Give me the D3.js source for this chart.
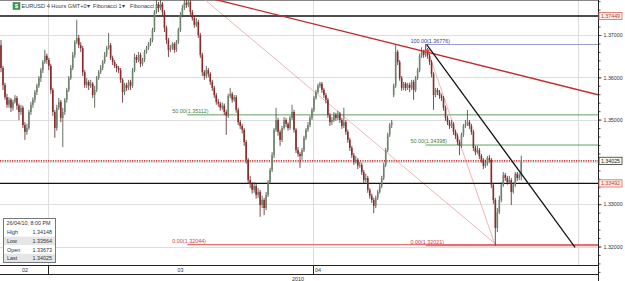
<!DOCTYPE html>
<html>
<head>
<meta charset="utf-8">
<script src="https://cdn.jsdelivr.net/npm/d3@7"></script>
<style>
body { margin: 0; background: #fff; }
svg { display: block; font-family: "Liberation Sans", Arial, sans-serif; }
</style>
</head>
<body>
<svg id="chart" width="625" height="281"></svg>
<script>
// EURUSD 4h bars, [open, high, low, close], late Feb 2010 to 26/04/10 8:00 PM
const candles = [
[1.3676,1.3688,1.3612,1.3622],[1.3622,1.3627,1.3570,1.3582],[1.3582,1.3587,1.3547,1.3553],[1.3553,1.3561,1.3528,1.3535],
[1.3535,1.3553,1.3528,1.3547],[1.3547,1.3551,1.3518,1.3528],[1.3528,1.3547,1.3521,1.3542],[1.3542,1.3558,1.3538,1.3551],
[1.3551,1.3556,1.3523,1.3533],[1.3533,1.3538,1.3499,1.3518],[1.3518,1.3535,1.3511,1.3528],[1.3528,1.3533,1.3480,1.3487],
[1.3487,1.3494,1.3452,1.3471],[1.3471,1.3490,1.3464,1.3480],[1.3480,1.3523,1.3476,1.3518],[1.3518,1.3542,1.3511,1.3535],
[1.3535,1.3553,1.3528,1.3547],[1.3547,1.3570,1.3540,1.3565],[1.3565,1.3585,1.3558,1.3580],[1.3580,1.3603,1.3575,1.3598],
[1.3598,1.3622,1.3589,1.3617],[1.3617,1.3641,1.3610,1.3636],[1.3636,1.3665,1.3632,1.3651],[1.3651,1.3656,1.3632,1.3641],
[1.3641,1.3646,1.3617,1.3627],[1.3627,1.3632,1.3561,1.3570],[1.3570,1.3575,1.3509,1.3518],[1.3518,1.3523,1.3457,1.3480],
[1.3480,1.3535,1.3474,1.3528],[1.3528,1.3551,1.3523,1.3542],[1.3542,1.3547,1.3494,1.3504],[1.3504,1.3528,1.3435,1.3518],
[1.3518,1.3551,1.3511,1.3547],[1.3547,1.3575,1.3540,1.3570],[1.3570,1.3603,1.3565,1.3598],[1.3598,1.3629,1.3594,1.3622],
[1.3622,1.3660,1.3617,1.3653],[1.3653,1.3688,1.3646,1.3683],[1.3683,1.3736,1.3679,1.3693],[1.3693,1.3700,1.3669,1.3676],
[1.3676,1.3683,1.3660,1.3669],[1.3669,1.3674,1.3603,1.3612],[1.3612,1.3617,1.3575,1.3582],[1.3582,1.3598,1.3575,1.3589],
[1.3589,1.3594,1.3570,1.3580],[1.3580,1.3594,1.3575,1.3585],[1.3585,1.3589,1.3551,1.3558],[1.3558,1.3580,1.3528,1.3570],
[1.3570,1.3603,1.3565,1.3598],[1.3598,1.3617,1.3594,1.3612],[1.3612,1.3629,1.3608,1.3622],[1.3622,1.3641,1.3617,1.3636],
[1.3636,1.3660,1.3632,1.3653],[1.3653,1.3674,1.3648,1.3669],[1.3669,1.3705,1.3665,1.3676],[1.3676,1.3681,1.3641,1.3646],
[1.3646,1.3651,1.3629,1.3636],[1.3636,1.3641,1.3622,1.3627],[1.3627,1.3632,1.3612,1.3622],[1.3622,1.3627,1.3610,1.3617],
[1.3617,1.3622,1.3587,1.3594],[1.3594,1.3598,1.3540,1.3565],[1.3565,1.3587,1.3558,1.3582],[1.3582,1.3587,1.3568,1.3575],
[1.3575,1.3594,1.3570,1.3589],[1.3589,1.3594,1.3570,1.3580],[1.3580,1.3622,1.3575,1.3617],[1.3617,1.3656,1.3612,1.3648],
[1.3648,1.3653,1.3634,1.3641],[1.3641,1.3660,1.3636,1.3653],[1.3653,1.3658,1.3624,1.3632],[1.3632,1.3646,1.3627,1.3641],
[1.3641,1.3665,1.3636,1.3660],[1.3660,1.3674,1.3656,1.3669],[1.3669,1.3683,1.3665,1.3679],[1.3679,1.3693,1.3674,1.3688],
[1.3688,1.3717,1.3683,1.3712],[1.3712,1.3759,1.3707,1.3754],[1.3754,1.3788,1.3750,1.3771],[1.3771,1.3778,1.3754,1.3764],
[1.3764,1.3783,1.3759,1.3774],[1.3774,1.3778,1.3747,1.3754],[1.3754,1.3759,1.3707,1.3717],[1.3717,1.3722,1.3679,1.3688],
[1.3688,1.3693,1.3648,1.3665],[1.3665,1.3676,1.3660,1.3669],[1.3669,1.3683,1.3665,1.3679],[1.3679,1.3683,1.3658,1.3665],
[1.3665,1.3688,1.3660,1.3683],[1.3683,1.3717,1.3679,1.3712],[1.3712,1.3754,1.3707,1.3747],[1.3747,1.3771,1.3742,1.3764],
[1.3764,1.3818,1.3759,1.3776],[1.3776,1.3783,1.3764,1.3771],[1.3771,1.3785,1.3766,1.3778],[1.3778,1.3783,1.3747,1.3754],
[1.3754,1.3759,1.3734,1.3740],[1.3740,1.3745,1.3717,1.3724],[1.3724,1.3740,1.3719,1.3731],[1.3731,1.3736,1.3693,1.3700],
[1.3700,1.3705,1.3646,1.3653],[1.3653,1.3658,1.3603,1.3612],[1.3612,1.3617,1.3594,1.3603],[1.3603,1.3627,1.3598,1.3617],
[1.3617,1.3622,1.3600,1.3608],[1.3608,1.3612,1.3582,1.3589],[1.3589,1.3594,1.3568,1.3575],[1.3575,1.3580,1.3551,1.3558],
[1.3558,1.3563,1.3535,1.3542],[1.3542,1.3549,1.3530,1.3538],[1.3538,1.3542,1.3521,1.3528],[1.3528,1.3540,1.3523,1.3533],
[1.3533,1.3538,1.3511,1.3518],[1.3518,1.3523,1.3464,1.3509],[1.3509,1.3561,1.3504,1.3556],[1.3556,1.3575,1.3551,1.3561],
[1.3561,1.3565,1.3540,1.3547],[1.3547,1.3558,1.3542,1.3553],[1.3553,1.3558,1.3516,1.3523],[1.3523,1.3528,1.3487,1.3494],
[1.3494,1.3499,1.3478,1.3485],[1.3485,1.3490,1.3467,1.3476],[1.3476,1.3480,1.3438,1.3447],[1.3447,1.3452,1.3396,1.3405],
[1.3405,1.3409,1.3348,1.3357],[1.3357,1.3367,1.3338,1.3348],[1.3348,1.3352,1.3325,1.3334],[1.3334,1.3352,1.3327,1.3343],
[1.3343,1.3348,1.3313,1.3322],[1.3322,1.3338,1.3315,1.3329],[1.3329,1.3334,1.3270,1.3298],[1.3298,1.3320,1.3291,1.3310],
[1.3310,1.3315,1.3274,1.3291],[1.3291,1.3329,1.3286,1.3322],[1.3322,1.3357,1.3317,1.3352],[1.3352,1.3386,1.3348,1.3381],
[1.3381,1.3423,1.3376,1.3416],[1.3416,1.3480,1.3409,1.3476],[1.3476,1.3528,1.3471,1.3499],[1.3499,1.3504,1.3462,1.3471],
[1.3471,1.3476,1.3438,1.3452],[1.3452,1.3485,1.3447,1.3480],[1.3480,1.3506,1.3476,1.3499],[1.3499,1.3504,1.3482,1.3490],
[1.3490,1.3494,1.3474,1.3480],[1.3480,1.3509,1.3476,1.3504],[1.3504,1.3535,1.3499,1.3518],[1.3518,1.3523,1.3469,1.3476],
[1.3476,1.3480,1.3421,1.3428],[1.3428,1.3435,1.3412,1.3419],[1.3419,1.3423,1.3386,1.3414],[1.3414,1.3433,1.3405,1.3428],
[1.3428,1.3462,1.3423,1.3457],[1.3457,1.3480,1.3452,1.3476],[1.3476,1.3494,1.3471,1.3487],[1.3487,1.3509,1.3482,1.3504],
[1.3504,1.3528,1.3499,1.3523],[1.3523,1.3556,1.3518,1.3551],[1.3551,1.3570,1.3547,1.3565],[1.3565,1.3585,1.3561,1.3580],
[1.3580,1.3589,1.3575,1.3585],[1.3585,1.3589,1.3563,1.3570],[1.3570,1.3575,1.3551,1.3558],[1.3558,1.3563,1.3538,1.3547],
[1.3547,1.3551,1.3504,1.3511],[1.3511,1.3516,1.3485,1.3494],[1.3494,1.3506,1.3487,1.3499],[1.3499,1.3518,1.3494,1.3511],
[1.3511,1.3516,1.3497,1.3504],[1.3504,1.3521,1.3499,1.3514],[1.3514,1.3518,1.3492,1.3499],[1.3499,1.3504,1.3478,1.3485],
[1.3485,1.3528,1.3480,1.3494],[1.3494,1.3499,1.3464,1.3471],[1.3471,1.3476,1.3445,1.3452],[1.3452,1.3457,1.3426,1.3433],
[1.3433,1.3438,1.3409,1.3416],[1.3416,1.3421,1.3393,1.3400],[1.3400,1.3414,1.3396,1.3405],[1.3405,1.3409,1.3383,1.3391],
[1.3391,1.3400,1.3386,1.3393],[1.3393,1.3398,1.3369,1.3376],[1.3376,1.3381,1.3348,1.3357],[1.3357,1.3372,1.3352,1.3362],
[1.3362,1.3367,1.3327,1.3334],[1.3334,1.3338,1.3313,1.3320],[1.3320,1.3325,1.3303,1.3310],[1.3310,1.3315,1.3279,1.3296],
[1.3296,1.3320,1.3291,1.3315],[1.3315,1.3334,1.3310,1.3329],[1.3329,1.3348,1.3325,1.3343],[1.3343,1.3367,1.3338,1.3362],
[1.3362,1.3398,1.3357,1.3393],[1.3393,1.3433,1.3388,1.3428],[1.3428,1.3469,1.3423,1.3464],[1.3464,1.3492,1.3459,1.3487],
[1.3487,1.3499,1.3480,1.3494],[1.3558,1.3585,1.3553,1.3580],[1.3580,1.3676,1.3575,1.3660],[1.3660,1.3665,1.3629,1.3636],
[1.3636,1.3641,1.3592,1.3598],[1.3598,1.3603,1.3568,1.3575],[1.3575,1.3589,1.3570,1.3585],[1.3585,1.3589,1.3568,1.3575],
[1.3575,1.3587,1.3570,1.3582],[1.3582,1.3587,1.3565,1.3575],[1.3575,1.3594,1.3570,1.3589],[1.3589,1.3594,1.3547,1.3570],
[1.3570,1.3603,1.3565,1.3598],[1.3598,1.3622,1.3594,1.3617],[1.3617,1.3656,1.3612,1.3651],[1.3651,1.3671,1.3646,1.3660],
[1.3660,1.3665,1.3646,1.3653],[1.3653,1.3678,1.3648,1.3665],[1.3665,1.3669,1.3644,1.3651],[1.3651,1.3656,1.3629,1.3636],
[1.3636,1.3641,1.3600,1.3608],[1.3608,1.3612,1.3523,1.3558],[1.3558,1.3575,1.3553,1.3570],[1.3570,1.3575,1.3558,1.3565],
[1.3565,1.3570,1.3549,1.3556],[1.3556,1.3561,1.3544,1.3551],[1.3551,1.3556,1.3521,1.3528],[1.3528,1.3533,1.3497,1.3504],
[1.3504,1.3509,1.3487,1.3494],[1.3494,1.3499,1.3478,1.3485],[1.3485,1.3499,1.3480,1.3490],[1.3490,1.3494,1.3464,1.3471],
[1.3471,1.3476,1.3454,1.3462],[1.3462,1.3467,1.3440,1.3447],[1.3447,1.3452,1.3416,1.3438],[1.3438,1.3469,1.3433,1.3464],
[1.3464,1.3490,1.3459,1.3485],[1.3485,1.3499,1.3480,1.3490],[1.3490,1.3523,1.3485,1.3494],[1.3494,1.3499,1.3478,1.3485],
[1.3485,1.3490,1.3464,1.3471],[1.3471,1.3476,1.3426,1.3433],[1.3433,1.3438,1.3416,1.3423],[1.3423,1.3438,1.3419,1.3428],
[1.3428,1.3433,1.3407,1.3414],[1.3414,1.3419,1.3398,1.3405],[1.3405,1.3409,1.3383,1.3391],[1.3391,1.3405,1.3386,1.3396],
[1.3396,1.3414,1.3391,1.3409],[1.3409,1.3416,1.3398,1.3405],[1.3405,1.3409,1.3338,1.3346],[1.3346,1.3350,1.3301,1.3310],
[1.3310,1.3315,1.3202,1.3244],[1.3244,1.3291,1.3234,1.3281],[1.3281,1.3320,1.3277,1.3310],[1.3310,1.3352,1.3305,1.3346],
[1.3346,1.3376,1.3341,1.3369],[1.3369,1.3374,1.3355,1.3362],[1.3362,1.3367,1.3346,1.3352],[1.3352,1.3367,1.3348,1.3357],
[1.3357,1.3362,1.3298,1.3329],[1.3329,1.3352,1.3325,1.3346],[1.3346,1.3376,1.3341,1.3372],[1.3372,1.3376,1.3355,1.3362],
[1.3362,1.3374,1.3357,1.3369],[1.33673,1.34148,1.33564,1.34025]
];

const barSlots = 300;                       // bar slots across the plot (incl. empty future)
const monthStarts = [24, 157, 290];          // bar index where Mar, Apr, May begin
const monthNames = ["02", "03", "04"];
const monthLabelAt = [12, 90, 159];
const yearLabel = "2010";
const yearLabelAt = [149];

const priceTicks = [1.32, 1.33, 1.34, 1.35, 1.36, 1.37];
const blackLevels = [1.37449, 1.33492];
const dottedLevel = 1.34025;
const tagPrices = [1.37449, 1.34025, 1.33492];

// trend lines as [barIndex, price] anchors
const redTrend = [[124.5, 1.3764], [269.5, 1.3594]];
const blackTrend = [[213.5, 1.3678], [288, 1.3198]];
// fibonacci tools: [start, end] as [barIndex, price]
const fibTools = [
  [[93.5, 1.38180], [248.5, 1.32044]],
  [[213, 1.36776], [248, 1.32021]]
];
const fibRatios = [0, 0.5, 1];

const lastStamp = "26/04/10, 8:00 PM";
const infoNames = ["High", "Low", "Open", "Last"];

const plot = { right: 598, bottom: 265.5 };
const svg = d3.select("#chart");

const x = d3.scaleLinear().domain([-0.5, barSlots - 0.5]).range([0, plot.right]);
const y = d3.scaleLinear().domain([1.32, 1.37]).range([246.5, 35]);
const px = v => Math.round(v) + 0.5;

svg.append("defs").append("clipPath").attr("id", "clip")
  .append("rect").attr("width", plot.right).attr("height", plot.bottom);

// grid
const grid = svg.append("g").attr("stroke", "#dedede").attr("stroke-width", 1);
grid.selectAll("line.h").data(priceTicks).join("line")
  .attr("x1", 0).attr("x2", plot.right)
  .attr("y1", d => px(y(d))).attr("y2", d => px(y(d)));
grid.selectAll("line.v").data(monthStarts).join("line")
  .attr("x1", d => px(x(d - 0.5))).attr("x2", d => px(x(d - 0.5)))
  .attr("y1", 0).attr("y2", plot.bottom);
svg.append("line").attr("x1", 0).attr("x2", plot.right).attr("y1", 0.5).attr("y2", 0.5)
  .attr("stroke", "#888");

// header
const head = svg.append("g").attr("font-size", 5.6).attr("fill", "#3a3a3a");
head.append("rect").attr("x", 13).attr("y", 2.5).attr("width", 7).attr("height", 7)
  .attr("fill", "#3e9b4f").attr("stroke", "#2c7a3a").attr("stroke-width", 0.5);
head.append("text").attr("x", 16.5).attr("y", 8.3).attr("text-anchor", "middle")
  .attr("fill", "#fff").attr("font-size", 6).attr("font-weight", "bold").text("$");
head.append("text").attr("x", 21.5).attr("y", 8.2).text("EURUSD 4 Hours GMT+0▾");
head.append("text").attr("x", 93).attr("y", 8.2).text("Fibonacci 1▾");
head.append("text").attr("x", 130).attr("y", 8.2).text("Fibonacci 2▾");

const layer = svg.append("g").attr("clip-path", "url(#clip)");

// fibonacci levels and their diagonal
fibTools.forEach(([a, b]) => {
  const lo = Math.min(a[1], b[1]), hi = Math.max(a[1], b[1]);
  const startX = x(Math.min(a[0], b[0]));
  layer.append("line")
    .attr("x1", x(a[0])).attr("y1", y(a[1])).attr("x2", x(b[0])).attr("y2", y(b[1]))
    .attr("stroke", "#eaa2a2").attr("stroke-width", 0.8);
  fibRatios.forEach(r => {
    const p = lo + r * (hi - lo);
    if (y(p) < 8) return; // level above the visible plot
    const col = r === 0 ? "#e27272" : r === 0.5 ? "#5f9f5f" : "#9a9ad0";
    const tcol = r === 0 ? "#d03a3a" : r === 0.5 ? "#3f7f3f" : "#3a3aa0";
    layer.append("line").attr("x1", startX).attr("x2", plot.right)
      .attr("y1", y(p)).attr("y2", y(p)).attr("stroke", col).attr("stroke-width", r === 0 ? 1.2 : 1);
    layer.append("text").attr("x", startX - 15).attr("y", y(p) - 1.8)
      .attr("font-size", 5.4).attr("fill", tcol)
      .text(`${(r * 100).toFixed(2)}(${p.toFixed(5)})`);
  });
});

// horizontal levels
layer.selectAll("line.lvl").data(blackLevels).join("line")
  .attr("x1", 0).attr("x2", plot.right)
  .attr("y1", d => y(d)).attr("y2", d => y(d))
  .attr("stroke", "#111").attr("stroke-width", 1.4);
layer.append("line").attr("x1", 0).attr("x2", plot.right)
  .attr("y1", y(dottedLevel)).attr("y2", y(dottedLevel))
  .attr("stroke", "#cc3a3a").attr("stroke-width", 1.6).attr("stroke-dasharray", "1.2,1.2");

// candles
const bars = layer.append("g");
candles.forEach((c, i) => {
  const [o, h, l, cl] = c;
  const up = cl >= o;
  const cx = x(i);
  bars.append("line").attr("x1", cx).attr("x2", cx).attr("y1", y(h)).attr("y2", y(l))
    .attr("stroke", up ? "#3c4a3c" : "#5a1c1c").attr("stroke-width", 0.8);
  const top = y(Math.max(o, cl)), bot = y(Math.min(o, cl));
  bars.append("rect").attr("x", cx - 0.8).attr("width", 1.6)
    .attr("y", top).attr("height", Math.max(0.6, bot - top))
    .attr("fill", up ? "#6f846d" : "#8a2a2a");
});

// trend lines, extended across the plot
function extend(a, b) {
  const slope = (b[1] - a[1]) / (b[0] - a[0]);
  const at = i => a[1] + slope * (i - a[0]);
  return [[-0.5, at(-0.5)], [barSlots - 0.5, at(barSlots - 0.5)]];
}
const redLine = extend(redTrend[0], redTrend[1]);
layer.append("line")
  .attr("x1", x(redLine[0][0])).attr("y1", y(redLine[0][1]))
  .attr("x2", x(redLine[1][0])).attr("y2", y(redLine[1][1]))
  .attr("stroke", "#c42a2a").attr("stroke-width", 1.4);
layer.append("line")
  .attr("x1", x(blackTrend[0][0])).attr("y1", y(blackTrend[0][1]))
  .attr("x2", x(blackTrend[1][0])).attr("y2", y(blackTrend[1][1]))
  .attr("stroke", "#111").attr("stroke-width", 1.2);
layer.append("rect").attr("x", x(fibTools[1][0][0]) - 1).attr("y", y(fibTools[1][0][1]) + 5)
  .attr("width", 5).attr("height", 3).attr("fill", "#e04a4a");

// right price axis (labels under a price tag are hidden by the tag)
const tagged = v => tagPrices.some(t => Math.abs(y(t) - y(v)) < 7);
const minorTicks = d3.range(1.314, 1.3801, 0.002);
svg.append("g").attr("transform", `translate(${plot.right + 0.5},0)`)
  .call(d3.axisRight(y).tickValues(minorTicks).tickSize(2).tickFormat(""))
  .call(g => g.select(".domain").remove())
  .selectAll("line").attr("stroke", "#555");
const axis = svg.append("g").attr("transform", `translate(${plot.right + 0.5},0)`)
  .call(d3.axisRight(y).tickValues(priceTicks).tickSize(3).tickPadding(2)
    .tickFormat(d => tagged(d) ? "" : d3.format(".5f")(d)));
axis.select(".domain").remove();
axis.selectAll("text").attr("font-size", 5.3).attr("font-family", "Liberation Sans, Arial").attr("fill", "#333");
axis.selectAll("line").attr("stroke", "#555");
svg.append("line").attr("x1", plot.right + 0.5).attr("x2", plot.right + 0.5)
  .attr("y1", 0).attr("y2", 281).attr("stroke", "#222");

// price tags on the axis
const tags = svg.append("g").selectAll("g").data(tagPrices).join("g")
  .attr("transform", d => `translate(${plot.right + 1},${y(d)})`);
tags.append("rect").attr("x", 0).attr("y", -3.6).attr("width", 23).attr("height", 7.2)
  .attr("fill", d => d === dottedLevel ? "#fbfbe9" : "#fdeee9")
  .attr("stroke", d => d === dottedLevel ? "#333" : "#d86a5a").attr("stroke-width", 0.8);
tags.append("text").attr("x", 11.5).attr("y", 1.9).attr("text-anchor", "middle")
  .attr("font-size", 5.3).attr("fill", d => d === dottedLevel ? "#222" : "#c0392b")
  .text(d => d3.format(".5f")(d));

// time axis
const tAxis = svg.append("g").attr("stroke", "#222");
tAxis.append("line").attr("x1", 0).attr("x2", plot.right).attr("y1", plot.bottom).attr("y2", plot.bottom);
tAxis.append("line").attr("x1", 0).attr("x2", plot.right).attr("y1", 274.5).attr("y2", 274.5);
tAxis.selectAll("line.m").data(monthStarts.slice(0, 2)).join("line")
  .attr("x1", d => px(x(d - 0.5))).attr("x2", d => px(x(d - 0.5)))
  .attr("y1", plot.bottom).attr("y2", 274.5);
svg.append("g").selectAll("text").data(monthNames).join("text")
  .attr("x", (d, i) => i === 2 ? x(monthStarts[1] - 0.5) + 2 : x(monthLabelAt[i]))
  .attr("y", 272.3).attr("text-anchor", (d, i) => i === 2 ? "start" : "middle")
  .attr("font-size", 5.4).attr("fill", "#333").text(d => d);
svg.append("text").attr("x", x(yearLabelAt[0])).attr("y", 280.5).attr("text-anchor", "middle")
  .attr("font-size", 5.4).attr("fill", "#333").text(yearLabel);

// last bar info box
const last = candles[candles.length - 1];
const infoVals = [last[1], last[2], last[0], last[3]];
const box = svg.append("g").attr("transform", "translate(3.5,218.5)");
box.append("rect").attr("width", 52).attr("height", 44).attr("fill", "#fff").attr("stroke", "#777");
box.selectAll("rect.row").data(infoNames).join("rect")
  .attr("x", 0.5).attr("y", (d, i) => 9.5 + i * 8.6).attr("width", 51).attr("height", 8.6)
  .attr("fill", (d, i) => i % 2 ? "#e6e6e6" : "#fff");
box.append("text").attr("x", 3).attr("y", 6.8).attr("font-size", 5.4).attr("fill", "#333").text(lastStamp);
box.selectAll("text.n").data(infoNames).join("text")
  .attr("x", 3.5).attr("y", (d, i) => 15.8 + i * 8.6).attr("font-size", 5.4).attr("fill", "#333").text(d => d);
box.selectAll("text.v").data(infoVals).join("text")
  .attr("x", 48.5).attr("y", (d, i) => 15.8 + i * 8.6).attr("text-anchor", "end")
  .attr("font-size", 5.4).attr("fill", "#333").text(d => d3.format(".5f")(d));
box.append("rect").attr("width", 52).attr("height", 44).attr("fill", "none").attr("stroke", "#777");
</script>
</body>
</html>
